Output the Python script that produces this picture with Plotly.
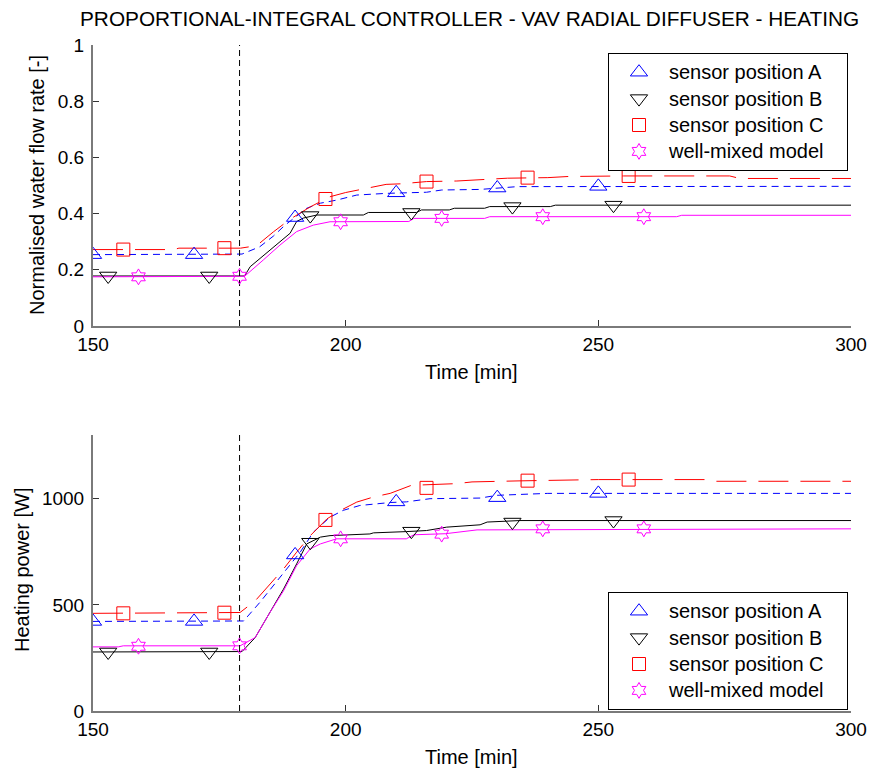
import plotly.graph_objects as go

# ---------------- data ----------------
STEP_T = 179

# top: normalised water flow rate [-]
flowA_t = [150, 179.5, 183, 185.7, 188, 190.3, 192.3, 195, 198.2, 202.2, 208, 216, 219, 226.6, 229, 234, 300]
flowA_v = [0.254, 0.256, 0.282, 0.32, 0.359, 0.39, 0.419, 0.437, 0.448, 0.466, 0.472, 0.476, 0.484, 0.486, 0.49, 0.496, 0.497]
flowB_t = [150, 180, 181.1, 185, 189, 190.3, 191.6, 194.3, 203.5, 204.5, 214, 215, 220.5, 221.5, 227.5, 228.5, 240.5, 241.5, 300]
flowB_v = [0.178, 0.178, 0.211, 0.27, 0.33, 0.372, 0.384, 0.395, 0.395, 0.404, 0.404, 0.413, 0.413, 0.419, 0.419, 0.425, 0.425, 0.43, 0.43]
flowC_t = [150, 166, 167, 179.2, 181, 183, 185.7, 189, 193, 196.9, 200, 204.2, 208, 211, 216, 222, 228, 232, 240, 244, 255, 276, 278, 300]
flowC_v = [0.272, 0.272, 0.277, 0.277, 0.282, 0.295, 0.335, 0.38, 0.424, 0.46, 0.475, 0.49, 0.504, 0.506, 0.514, 0.516, 0.523, 0.526, 0.528, 0.532, 0.534, 0.534, 0.525, 0.525]
flowW_t = [150, 180, 183.7, 187, 190.3, 193.6, 196.9, 212.5, 213.5, 227.5, 228.5, 265.5, 266.5, 300]
flowW_v = [0.175, 0.177, 0.235, 0.288, 0.336, 0.359, 0.371, 0.372, 0.383, 0.383, 0.389, 0.389, 0.394, 0.394]

mA_t = [150, 170, 190, 210, 230, 250]
mB_t = [153, 173, 193, 213, 233, 253]
mC_t = [156, 176, 196, 216, 236, 256]
mW_t = [159, 179, 199, 219, 239, 259]
mflowA = [0.254, 0.254, 0.386, 0.474, 0.491, 0.497]
mflowB = [0.178, 0.178, 0.393, 0.404, 0.425, 0.43]
mflowC = [0.272, 0.277, 0.452, 0.514, 0.528, 0.534]
mflowW = [0.175, 0.177, 0.371, 0.383, 0.389, 0.389]

# bottom: heating power [W]
powA_t = [150, 179.8, 183, 185.7, 188.3, 191, 193.6, 196.9, 199.5, 202.8, 208.8, 212, 216.7, 226.6, 230, 240, 300]
powA_v = [422, 424, 511, 590, 669, 748, 842, 913, 945, 968, 982, 985, 1000, 1003, 1016, 1025, 1025]
powB_t = [150, 179.5, 182.1, 185, 187.7, 190.3, 192.3, 195, 196.9, 204.8, 205.5, 212, 216, 220, 226.6, 228, 234.5, 300]
powB_v = [278, 280, 346, 464, 574, 693, 787, 819, 826, 834, 839, 845, 850, 866, 877, 890, 897, 897]
powC_t = [150, 179.1, 182.1, 184.7, 187.7, 190.3, 193, 196.3, 199, 202.2, 205.5, 208.8, 213, 222, 225, 234.5, 240, 250, 271, 273, 300]
powC_v = [460, 464, 519, 590, 669, 748, 826, 905, 945, 984, 1008, 1025, 1063, 1071, 1079, 1084, 1087, 1090, 1090, 1082, 1082]
powW_t = [150, 155, 156, 179.1, 182.1, 185, 187.7, 190.3, 193, 195, 198.2, 212, 213.5, 219.7, 226, 300]
powW_v = [302, 302, 307, 307, 346, 464, 566, 685, 764, 787, 811, 811, 830, 835, 853, 858]

mpowA = [422, 422, 735, 985, 1005, 1025]
mpowB = [278, 278, 795, 847, 890, 897]
mpowC = [460, 463, 900, 1051, 1085, 1090]
mpowW = [305, 307, 811, 833, 858, 858]

NAMES = ["sensor position A", "sensor position B", "sensor position C", "well-mixed model"]
COLORS = ["#0000ff", "#000000", "#ff0000", "#ff00ff"]
DASHES = ["7px,5px", "solid", "30px,12px", "solid"]
SYMBOLS = ["triangle-up-open", "triangle-down-open", "square-open", "hexagram-open"]
MSIZES = [15, 15, 13, 12]

FONT = "Liberation Sans, Arial, sans-serif"
FS = 20
TFS = 19

fig = go.Figure()

def add_panel(lines, markers, mtimes, xa, ya, legend, ymax):
    for i, (lt, lv) in enumerate(lines):
        fig.add_trace(go.Scatter(x=lt, y=lv, mode="lines", xaxis=xa, yaxis=ya,
                                 line=dict(color=COLORS[i], width=1, dash=DASHES[i]),
                                 showlegend=False, hoverinfo="skip"))
    fig.add_trace(go.Scatter(x=[STEP_T, STEP_T], y=[0, ymax], mode="lines", xaxis=xa, yaxis=ya,
                             line=dict(color="black", width=1, dash="6px,4px"),
                             showlegend=False, hoverinfo="skip"))
    for i, mv in enumerate(markers):
        fig.add_trace(go.Scatter(x=mtimes[i], y=mv, mode="markers", xaxis=xa, yaxis=ya,
                                 name='<span style="font-size:20px">%s\u00a0\u00a0\u00a0</span>' % NAMES[i],
                                 legend=legend,
                                 marker=dict(symbol=SYMBOLS[i], size=MSIZES[i], color=COLORS[i],
                                             line=dict(width=1, color=COLORS[i]))))

mtimes = [mA_t, mB_t, mC_t, mW_t]
add_panel([(flowA_t, flowA_v), (flowB_t, flowB_v), (flowC_t, flowC_v), (flowW_t, flowW_v)],
          [mflowA, mflowB, mflowC, mflowW], mtimes, "x", "y", "legend", 1)
add_panel([(powA_t, powA_v), (powB_t, powB_v), (powC_t, powC_v), (powW_t, powW_v)],
          [mpowA, mpowB, mpowC, mpowW], mtimes, "x2", "y2", "legend2", 1300)

W, H = 871, 771
def px(v): return v / W
def py(v): return 1 - v / H

axis_common = dict(showline=True, linecolor="#7a7a7a", linewidth=2, ticks="inside", ticklen=6,
                   tickcolor="#333", showgrid=False, zeroline=False, automargin=False,
                   tickfont=dict(family=FONT, size=TFS, color="black"))

fig.update_layout(
    width=W, height=H, margin=dict(l=0, r=0, t=0, b=0, autoexpand=False),
    paper_bgcolor="white", plot_bgcolor="white",
    font=dict(family=FONT, size=FS, color="black"),
    xaxis=dict(domain=[px(93), px(851)], anchor="y", range=[150, 300], tickvals=[150, 200, 250, 300], **axis_common),
    yaxis=dict(domain=[py(326), py(45)], anchor="x", range=[0, 1], ticklabelstandoff=3,
               tickvals=[0, 0.2, 0.4, 0.6, 0.8, 1], ticktext=["0", "0.2", "0.4", "0.6", "0.8", "1"], **axis_common),
    xaxis2=dict(domain=[px(93), px(851)], anchor="y2", range=[150, 300], tickvals=[150, 200, 250, 300], **axis_common),
    yaxis2=dict(domain=[py(711), py(435)], anchor="x2", range=[0, 1300], ticklabelstandoff=3,
                tickvals=[0, 500, 1000], ticktext=["0", "500", "1000"], **axis_common),
    legend=dict(x=px(848), xanchor="right", y=py(53), yanchor="top", bgcolor="white",
                bordercolor="black", borderwidth=1, itemwidth=50, font=dict(family=FONT, size=18)),
    legend2=dict(x=px(848), xanchor="right", y=py(592), yanchor="top", bgcolor="white",
                 bordercolor="black", borderwidth=1, itemwidth=50, font=dict(family=FONT, size=18)),
    showlegend=True,
    hovermode=False,
)

ann = [
    dict(text="PROPORTIONAL-INTEGRAL CONTROLLER - VAV RADIAL DIFFUSER - HEATING", x=px(469), y=py(18), size=20.8),
    dict(text="Time [min]", x=px(471), y=py(372), size=FS),
    dict(text="Time [min]", x=px(471), y=py(757), size=FS),
    dict(text="Normalised water flow rate [-]", x=px(37), y=py(185), textangle=-90, size=FS),
    dict(text="Heating power [W]", x=px(22), y=py(570), textangle=-90, size=FS),
]
for a in ann:
    sz = a.pop("size")
    fig.add_annotation(xref="paper", yref="paper", showarrow=False, xanchor="center", yanchor="middle",
                       font=dict(family=FONT, size=sz, color="black"), **a)

fig.write_html("out.html", config={"displayModeBar": False},
               post_script="document.body.style.margin='0';")
